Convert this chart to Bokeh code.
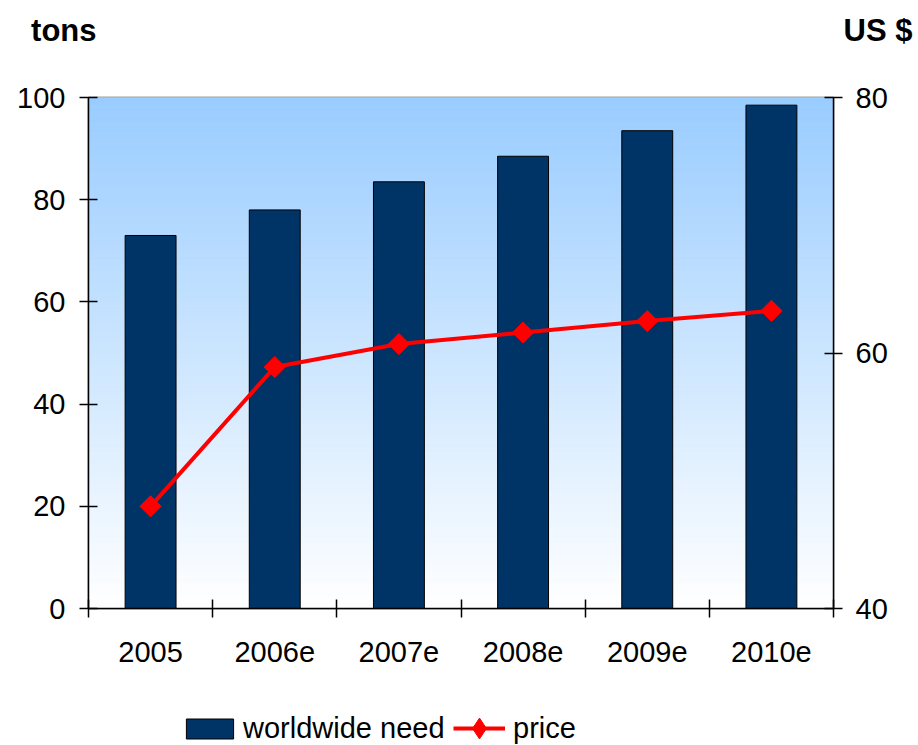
import numpy as np
from bokeh.plotting import figure
from bokeh.layouts import column
from bokeh.models import (Range1d, LinearAxis, FixedTicker, Legend,
                          LegendItem)
from bokeh.embed import file_html
from bokeh.resources import INLINE

# ---- data ----
years = ["2005", "2006e", "2007e", "2008e", "2009e", "2010e"]
need = [73.0, 78.0, 83.5, 88.5, 93.5, 98.5]          # tons (left axis)
price = [48.0, 58.9, 60.7, 61.6, 62.5, 63.3]         # US $ (right axis)
left_ticks = [0, 20, 40, 60, 80, 100]
right_ticks = [40, 60, 80]
left_unit = "tons"
right_unit = "US $"
series_names = ["worldwide need", "price"]

FONT = "Liberation Sans"
W = 918
FRAME_L = 88          # frame left edge (frames of stacked plots are aligned)
FRAME_R = 85
BAR_COLOR = "#003366"
LINE_COLOR = "#ff0000"
x = [i + 0.5 for i in range(len(years))]


def blank_fig(h, bottom=0):
    f = figure(width=W, height=h, x_range=Range1d(0, 1), y_range=Range1d(0, 1),
               output_backend="svg", toolbar_location=None,
               x_axis_location=None, y_axis_location=None,
               min_border=0, min_border_left=FRAME_L, min_border_right=FRAME_R,
               min_border_top=0, min_border_bottom=bottom)
    f.xgrid.visible = False
    f.ygrid.visible = False
    f.outline_line_color = None
    f.background_fill_color = "white"
    f.border_fill_color = "white"
    return f


def unit_axis(label, standoff):
    return LinearAxis(ticker=FixedTicker(ticks=[], minor_ticks=[]),
                      axis_label=label, axis_label_orientation="horizontal",
                      axis_label_standoff=standoff, axis_label_text_font=FONT,
                      axis_label_text_font_style="bold",
                      axis_label_text_font_size="31px",
                      axis_label_text_color="black", axis_line_color=None,
                      major_tick_line_color=None, minor_tick_line_color=None,
                      major_tick_in=0, major_tick_out=0, minor_tick_in=0,
                      minor_tick_out=0, major_label_text_font_size="0px")


# ---- top strip with unit titles ----
TOP_H = 82
top = blank_fig(TOP_H, bottom=22)
top.add_layout(unit_axis(left_unit, -8), "left")
top.add_layout(unit_axis(right_unit, 10), "right")

# ---- main chart ----
MAIN_H = 596
p = figure(width=W, height=MAIN_H, x_range=Range1d(0, len(years)),
           y_range=Range1d(0, 100), output_backend="svg",
           toolbar_location=None, min_border_left=FRAME_L,
           min_border_right=FRAME_R, min_border_top=15,
           min_border_bottom=MAIN_H - 15 - 511)
p.extra_y_ranges = {"price": Range1d(40, 80)}
p.background_fill_color = "white"
p.border_fill_color = "white"
p.xgrid.visible = False
p.ygrid.visible = False
p.outline_line_color = "#a0a0a0"
p.outline_line_width = 2

# gradient background of the plot area (style only)
n = 150
edges = np.linspace(0, 100, n + 1)
top_c = np.array([153, 204, 255])
bot_c = np.array([255, 255, 255])
cols = []
for i in range(n):
    t = (edges[i] + edges[i + 1]) / 2 / 100
    c = bot_c + (top_c - bot_c) * t
    cols.append("#%02x%02x%02x" % tuple(int(round(v)) for v in c))
p.quad(left=0, right=len(years), bottom=edges[:-1], top=edges[1:],
       fill_color=cols, line_color=cols, line_width=1)

p.vbar(x=x, top=need, bottom=0, width=0.41, fill_color=BAR_COLOR,
       line_color="black", line_width=1)
p.line(x, price, y_range_name="price", line_color=LINE_COLOR, line_width=4)
p.scatter(x, price, y_range_name="price", marker="square",
          angle=np.pi / 4, size=15, fill_color=LINE_COLOR,
          line_color=LINE_COLOR)


def style_axis(ax):
    ax.axis_line_color = "black"
    ax.axis_line_width = 1.5
    ax.major_tick_line_color = "black"
    ax.major_tick_line_width = 1.5
    ax.major_label_text_font = FONT
    ax.major_label_text_font_size = "29px"
    ax.major_label_text_color = "black"


ya = p.yaxis[0]
ya.ticker = FixedTicker(ticks=left_ticks, minor_ticks=[])
style_axis(ya)
ya.major_tick_in = 9
ya.major_tick_out = 9
ya.major_label_standoff = 14

ra = LinearAxis(y_range_name="price",
                ticker=FixedTicker(ticks=right_ticks, minor_ticks=[]))
style_axis(ra)
ra.major_tick_in = 9
ra.major_tick_out = 9
ra.major_label_standoff = 13
p.add_layout(ra, "right")

xa = p.xaxis[0]
xa.ticker = FixedTicker(ticks=x, minor_ticks=list(range(len(years) + 1)))
style_axis(xa)
xa.major_tick_in = 0
xa.major_tick_out = 9
xa.major_tick_line_color = None
xa.minor_tick_line_color = "black"
xa.minor_tick_line_width = 1.5
xa.minor_tick_in = 9
xa.minor_tick_out = 9
xa.major_label_standoff = 24
xa.major_label_overrides = {xi: yr for xi, yr in zip(x, years)}

# ---- legend strip (same series, drawn off-frame so only the legend shows) ----
LEG_H = 745 - TOP_H - MAIN_H
lf = blank_fig(LEG_H)
lf.extra_x_ranges = {"off": Range1d(1000, 1001)}
lf.extra_y_ranges = {"off": Range1d(1000, 1001)}
lb = lf.vbar(x=x, top=need, width=0.41, fill_color=BAR_COLOR,
             line_color="black", line_width=1,
             x_range_name="off", y_range_name="off")
ll = lf.line(x, price, line_color=LINE_COLOR, line_width=4,
             x_range_name="off", y_range_name="off")
lp = lf.scatter(x, price, marker="diamond", size=15,
                fill_color=LINE_COLOR, line_color=LINE_COLOR,
                x_range_name="off", y_range_name="off")

leg_style = dict(orientation="horizontal", label_text_font=FONT,
                 label_text_font_size="29px", label_text_color="black",
                 padding=0, margin=0, border_line_color=None,
                 background_fill_alpha=0)
leg_a = Legend(items=[LegendItem(label=series_names[0], renderers=[lb])],
               location=(180 - FRAME_L, 0), glyph_width=59, glyph_height=25,
               label_standoff=4, **leg_style)
leg_b = Legend(items=[LegendItem(label=series_names[1], renderers=[ll, lp])],
               location=(453 - FRAME_L, -15), glyph_width=52, glyph_height=64,
               label_standoff=8, **leg_style)
lf.add_layout(leg_a)
lf.add_layout(leg_b)

layout = column(top, p, lf, spacing=0)
open("out.html", "w").write(file_html(layout, INLINE))
